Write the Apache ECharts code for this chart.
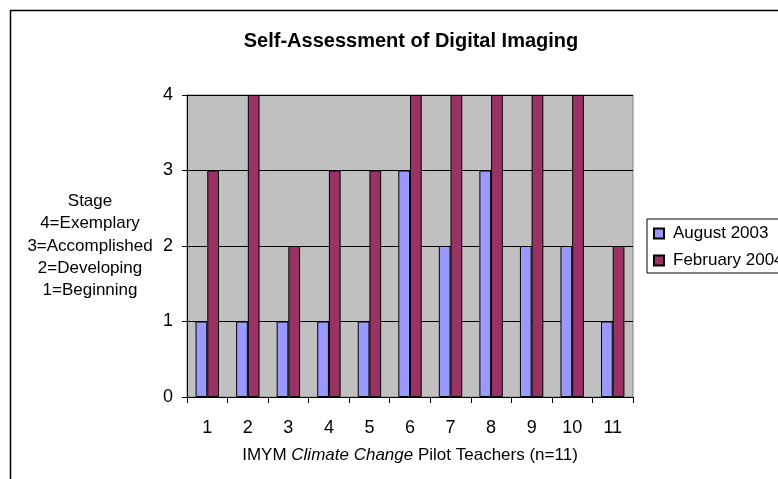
<!DOCTYPE html>
<html>
<head>
<meta charset="utf-8">
<script src="https://cdn.jsdelivr.net/npm/echarts@6/dist/echarts.min.js"></script>
<style>
html,body{margin:0;padding:0;background:#fff;}
#chart{width:778px;height:479px;}
</style>
</head>
<body>
<div id="chart"></div>
<script>
const categories = ['1','2','3','4','5','6','7','8','9','10','11'];
const august2003 = [1,1,1,1,1,3,2,3,2,2,1];
const february2004 = [3,4,2,3,3,4,4,4,4,4,2];
const yTicks = [0,1,2,3,4];
const seriesNames = ['August 2003','February 2004'];
const titleText = 'Self-Assessment of Digital Imaging';
const yAxisTitle = 'Stage\n4=Exemplary\n3=Accomplished\n2=Developing\n1=Beginning';

const FONT = 'Liberation Sans, Arial, sans-serif';
const chart = echarts.init(document.getElementById('chart'), null, {renderer:'canvas'});
chart.setOption({
  backgroundColor:'#ffffff',
  animation:false,
  title:{
    text:titleText,
    left:406, top:26, textAlign:'center',
    textStyle:{fontFamily:FONT,fontSize:20,fontWeight:'bold',color:'#000'}
  },
  graphic:[{
    type:'rect', z:-10, silent:true,
    shape:{x:10.5,y:10.5,width:1000,height:1000},
    style:{fill:'none',stroke:'#000',lineWidth:1.5}
  }],
  legend:{
    orient:'vertical',
    left:647, top:219,
    data:seriesNames,
    icon:'rect',
    itemWidth:10, itemHeight:10,
    itemGap:10,
    padding:[6,30,4,6],
    borderColor:'#000', borderWidth:1,
    textStyle:{fontFamily:FONT,fontSize:17,color:'#000',lineHeight:17,padding:[0,0,0,4]}
  },
  grid:{
    left:187, top:95, right:145, bottom:82,
    show:true, backgroundColor:'#c0c0c0', borderColor:'#808080', borderWidth:1
  },
  xAxis:{
    type:'category',
    data:categories,
    nameLocation:'middle',
    axisLine:{show:true,lineStyle:{color:'#000',width:1}},
    axisTick:{show:true,alignWithLabel:false,length:6,lineStyle:{color:'#000'}},
    axisLabel:{fontFamily:FONT,fontSize:18,color:'#000',margin:22}
  },
  yAxis:{
    type:'value',
    min:0, max:4, interval:1,
    name:yAxisTitle,
    nameLocation:'middle',
    nameRotate:0,
    nameGap:97,
    nameTextStyle:{fontFamily:FONT,fontSize:17,color:'#000',lineHeight:22.3,align:'center',verticalAlign:'middle',padding:[5,0,0,0]},
    axisLine:{show:true,lineStyle:{color:'#000',width:1}},
    axisTick:{show:true,length:5,lineStyle:{color:'#000'}},
    axisLabel:{fontFamily:FONT,fontSize:18,color:'#000',margin:14,
      formatter:function(v){return yTicks.indexOf(v)>=0?String(v):'';}},
    splitLine:{show:true,lineStyle:{color:'#000',width:1}}
  },
  series:[
    {name:seriesNames[0],type:'bar',data:august2003,barWidth:11.7,barGap:'0%',
     itemStyle:{color:'#9999ff',borderColor:'#000',borderWidth:1}},
    {name:seriesNames[1],type:'bar',data:february2004,barWidth:11.7,barGap:'0%',
     itemStyle:{color:'#993366',borderColor:'#000',borderWidth:1}}
  ]
});
chart.setOption({
  xAxis:{
    name:'{n|IMYM }{i|Climate Change}{n| Pilot Teachers (n=11)}',
    nameGap:50,
    nameTextStyle:{
      rich:{
        n:{fontFamily:FONT,fontSize:17,color:'#000'},
        i:{fontFamily:FONT,fontSize:17,color:'#000',fontStyle:'italic'}
      }
    }
  }
});
</script>
</body>
</html>
